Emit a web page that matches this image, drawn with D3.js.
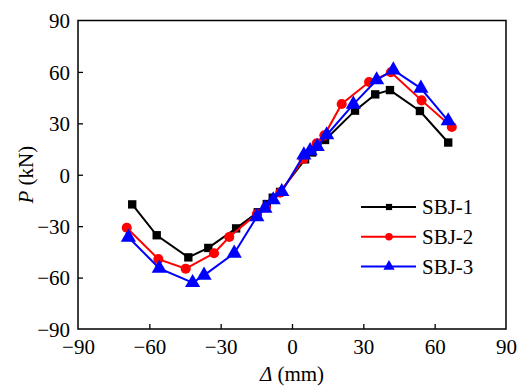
<!DOCTYPE html>
<html>
<head>
<meta charset="utf-8">
<script src="https://cdn.jsdelivr.net/npm/d3@7"></script>
<style>
  body { margin: 0; background: #fff; }
</style>
</head>
<body>
<svg id="chart" width="519" height="386"></svg>
<script>
// series values (displacement mm, load kN)
var seriesNames = ["SBJ-1", "SBJ-2", "SBJ-3"];
var sbj1X = [-67.2, -56.9, -43.6, -35.2, -23.5, -14.4, -10.6, -8.1, -5.0, 5.5, 8.5, 13.9, 26.5, 35.0, 41.2, 53.8, 65.7];
var sbj1Y = [-17.3, -35.3, -48.2, -42.7, -31.3, -21.9, -17.1, -13.4, -10.0, 9.0, 13.0, 20.3, 37.4, 46.9, 49.4, 37.2, 18.8];
var sbj2X = [-69.5, -56.2, -44.7, -32.8, -26.4, -14.8, -11.0, -5.0, 4.8, 10.4, 13.6, 20.9, 32.4, 41.6, 54.5, 67.2];
var sbj2Y = [-30.9, -49.2, -54.8, -45.8, -36.3, -22.9, -19.0, -10.5, 9.2, 18.3, 23.0, 41.3, 54.1, 59.8, 43.4, 27.9];
var sbj3X = [-68.8, -55.8, -41.8, -37.0, -24.3, -14.8, -11.4, -7.9, -4.3, 5.0, 7.6, 10.6, 14.6, 25.8, 35.6, 42.6, 54.2, 65.7];
var sbj3Y = [-36.5, -54.6, -63.0, -58.7, -45.8, -24.5, -19.6, -14.7, -9.9, 11.5, 14.0, 16.4, 23.2, 41.1, 55.3, 61.1, 50.4, 31.4];
var tickValues = [-90, -60, -30, 0, 30, 60, 90];
var colors = ["#000000", "#ff0000", "#0000ff"];
var symbols = [d3.symbolSquare, d3.symbolCircle, d3.symbolTriangle];
var symbolSizes = [70, 80, 100];
var serif = "'Liberation Serif', 'Times New Roman', serif";

var svg = d3.select("#chart");
var margin = {top: 20.5, right: 13, bottom: 57, left: 78};
var width = 519 - margin.left - margin.right;
var height = 386 - margin.top - margin.bottom;

var x = d3.scaleLinear().domain([-90, 90]).range([0, width]);
var y = d3.scaleLinear().domain([-90, 90]).range([height, 0]);

var g = svg.append("g").attr("transform", "translate(" + margin.left + "," + margin.top + ")");

// frame
g.append("rect")
    .attr("width", width).attr("height", height)
    .attr("fill", "none").attr("stroke", "#000").attr("stroke-width", 1.5);

var xAxis = g.append("g")
    .attr("transform", "translate(0," + height + ")")
    .call(d3.axisBottom(x).tickValues(tickValues).tickSizeInner(-5).tickSizeOuter(0).tickPadding(10));
var yAxis = g.append("g")
    .call(d3.axisLeft(y).tickValues(tickValues).tickSizeInner(-5).tickSizeOuter(0).tickPadding(8));

[xAxis, yAxis].forEach(function (ax) {
    ax.attr("font-family", serif).attr("font-size", 21);
    ax.select(".domain").remove();
    ax.selectAll("line").attr("stroke", "#000").attr("stroke-width", 1.3);
    ax.selectAll("text")
        .attr("fill", "#000")
        .style("font-family", serif)
        .style("font-size", "21px");
});
xAxis.selectAll("text").attr("dy", "0.71em");
yAxis.selectAll("text").attr("dy", "0.35em");
// ticks at the ends are covered by the frame
xAxis.selectAll(".tick").filter(function (d) { return d === -90 || d === 90; }).select("line").remove();
yAxis.selectAll(".tick").filter(function (d) { return d === -90 || d === 90; }).select("line").remove();

// axis titles
svg.append("text")
    .attr("x", margin.left + x(0))
    .attr("y", 381)
    .attr("text-anchor", "middle")
    .style("font-family", serif)
    .style("font-size", "21px")
    .html('<tspan font-style="italic">Δ</tspan> (mm)');

svg.append("text")
    .attr("transform", "translate(33," + (margin.top + y(0)) + ") rotate(-90)")
    .attr("text-anchor", "middle")
    .style("font-family", serif)
    .style("font-size", "21px")
    .html('<tspan font-style="italic">P</tspan> (kN)');

var seriesData = [
    d3.zip(sbj1X, sbj1Y),
    d3.zip(sbj2X, sbj2Y),
    d3.zip(sbj3X, sbj3Y)
];

var line = d3.line()
    .x(function (d) { return x(d[0]); })
    .y(function (d) { return y(d[1]); });

seriesData.forEach(function (data, i) {
    var s = g.append("g").attr("class", "series");
    s.append("path")
        .datum(data)
        .attr("d", line)
        .attr("fill", "none")
        .attr("stroke", colors[i])
        .attr("stroke-width", 2);
    s.selectAll(".pt")
        .data(data)
        .enter()
        .append("path")
        .attr("class", "pt")
        .attr("transform", function (d) { return "translate(" + x(d[0]) + "," + y(d[1]) + ")"; })
        .attr("d", d3.symbol().type(symbols[i]).size(symbolSizes[i]))
        .attr("fill", colors[i]);
});

// legend
var legend = svg.append("g").attr("transform", "translate(361,207)");
seriesNames.forEach(function (name, i) {
    var row = legend.append("g").attr("transform", "translate(0," + (i * 29.7) + ")");
    row.append("line")
        .attr("x1", 0).attr("x2", 55)
        .attr("stroke", colors[i]).attr("stroke-width", 2);
    row.append("path")
        .attr("transform", "translate(28,0)")
        .attr("d", d3.symbol().type(symbols[i]).size(symbolSizes[i] * 0.55))
        .attr("fill", colors[i]);
    row.append("text")
        .attr("x", 61)
        .attr("dy", "0.35em")
        .style("font-family", serif)
        .style("font-size", "21px")
        .text(name);
});
</script>
</body>
</html>
